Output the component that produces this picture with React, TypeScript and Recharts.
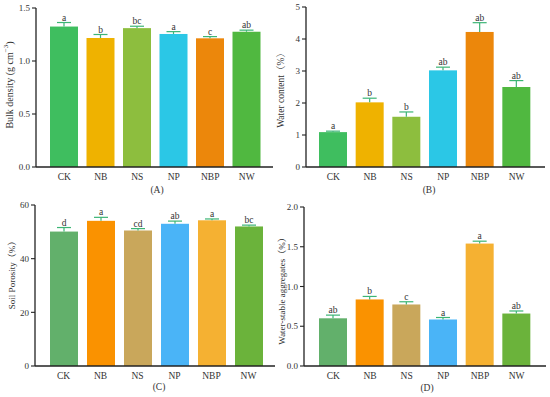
import React from 'react';
import { BarChart, Bar, XAxis, YAxis } from 'recharts';

const categories = ['CK', 'NB', 'NS', 'NP', 'NBP', 'NW'];

const bulkDensity = [1.325, 1.217, 1.31, 1.255, 1.214, 1.276];
const bulkDensityErr = [0.038, 0.033, 0.018, 0.022, 0.016, 0.015];
const bulkDensityLetters = ['a', 'b', 'bc', 'a', 'c', 'ab'];

const waterContent = [1.09, 2.02, 1.57, 3.02, 4.22, 2.5];
const waterContentErr = [0.03, 0.13, 0.15, 0.1, 0.29, 0.2];
const waterContentLetters = ['a', 'b', 'b', 'ab', 'ab', 'ab'];

const soilPorosity = [50.1, 54.1, 50.5, 53.0, 54.3, 52.0];
const soilPorosityErr = [1.5, 1.3, 0.7, 1.0, 0.5, 0.5];
const soilPorosityLetters = ['d', 'a', 'cd', 'ab', 'a', 'bc'];

const aggregates = [0.6, 0.837, 0.774, 0.585, 1.54, 0.66];
const aggregatesErr = [0.04, 0.038, 0.034, 0.025, 0.03, 0.032];
const aggregatesLetters = ['ab', 'b', 'c', 'a', 'a', 'ab'];

const ticksA = [0, 0.5, 1.0, 1.5];
const ticksB = [0, 1, 2, 3, 4, 5];
const ticksC = [0, 20, 40, 60];
const ticksD = [0, 0.5, 1.0, 1.5, 2.0];

const colorsTop = ['#3fbe5f', '#efb200', '#8dbe3e', '#2bc7e6', '#ec870b', '#50b840'];
const colorsBottom = ['#62b06b', '#fa9200', '#c9a75b', '#4ab4f7', '#f5b132', '#6bb33b'];

const ERR_COLOR = '#3cb575';
const AXIS_COLOR = '#222';
const FONT = '"Liberation Serif", "Times New Roman", "Noto Serif CJK SC", "Noto Sans CJK SC", serif';

const buildRows = (values: number[], errs: number[], letters: string[], colors: string[]) =>
  categories.map((name, i) => ({ name, value: values[i], err: errs[i], letter: letters[i], color: colors[i] }));

const BarWithError = (props: any) => {
  const { x, y, width, height, payload } = props;
  const ppu = height / payload.value;
  const cx = x + width / 2;
  const top = y - payload.err * ppu;
  return (
    <g>
      <rect x={x} y={y} width={width} height={height} fill={payload.color} />
      <line x1={cx} x2={cx} y1={y} y2={top} stroke={ERR_COLOR} strokeWidth={1.2} />
      <line x1={cx - 7} x2={cx + 7} y1={top} y2={top} stroke={ERR_COLOR} strokeWidth={1.2} />
      <text x={cx} y={top - 2} textAnchor="middle" fontSize={9.5} fontFamily={FONT} fill="#333">
        {payload.letter}
      </text>
    </g>
  );
};

type PanelProps = {
  left: number;
  top: number;
  data: any[];
  domain: [number, number];
  ticks: number[];
  fmt: (v: number) => string;
  margin: { top: number; right: number; left: number; bottom: number };
  yWidth: number;
  pad: { left: number; right: number };
};

const Panel = ({ left, top, data, domain, ticks, fmt, margin, yWidth, pad }: PanelProps) => (
  <div style={{ position: 'absolute', left, top }}>
    <BarChart width={275} height={200} data={data} margin={margin} barCategoryGap={0}>
      <XAxis
        dataKey="name"
        padding={pad}
        tickLine={false}
        tickSize={0}
        tickMargin={6}
        axisLine={{ stroke: AXIS_COLOR, strokeWidth: 1.3 }}
        tick={{ fontSize: 9.5, fill: '#333', fontFamily: FONT }}
        height={30}
        interval={0}
      />
      <YAxis
        domain={domain}
        ticks={ticks}
        tickFormatter={fmt}
        width={yWidth}
        axisLine={{ stroke: AXIS_COLOR, strokeWidth: 1.3 }}
        tickLine={{ stroke: AXIS_COLOR, strokeWidth: 1.1 }}
        tickSize={4}
        tickMargin={2}
        tick={{ fontSize: 9, fill: '#333', fontFamily: FONT }}
        allowDataOverflow
      />
      <Bar dataKey="value" barSize={28} isAnimationActive={false} shape={BarWithError} />
    </BarChart>
  </div>
);

const textStyle: React.CSSProperties = {
  position: 'absolute',
  fontFamily: FONT,
  color: '#333',
  whiteSpace: 'nowrap',
  lineHeight: 1,
};

const YLabel = ({ x, y, size, children }: { x: number; y: number; size: number; children: React.ReactNode }) => (
  <div style={{ ...textStyle, left: x, top: y, fontSize: size, transform: 'translate(-50%, -50%) rotate(-90deg)' }}>
    {children}
  </div>
);

const Title = ({ x, y, children }: { x: number; y: number; children: React.ReactNode }) => (
  <div style={{ ...textStyle, left: x, top: y, fontSize: 9.5, transform: 'translate(-50%, -50%)' }}>{children}</div>
);

const f1 = (v: number) => v.toFixed(1);
const f0 = (v: number) => String(v);

export default function App() {
  return (
    <div style={{ position: 'absolute', left: 0, top: 0, width: 550, height: 397, background: '#fff', overflow: 'hidden' }}>
      <Panel
        left={0}
        top={0}
        data={buildRows(bulkDensity, bulkDensityErr, bulkDensityLetters, colorsTop)}
        domain={[0, 1.5]}
        ticks={ticksA}
        fmt={f1}
        margin={{ top: 8, right: 2, left: 0, bottom: 3 }}
        yWidth={36}
        pad={{ left: 10, right: 8 }}
      />
      <Panel
        left={275}
        top={0}
        data={buildRows(waterContent, waterContentErr, waterContentLetters, colorsTop)}
        domain={[0, 5]}
        ticks={ticksB}
        fmt={f0}
        margin={{ top: 7, right: 5, left: 0, bottom: 3 }}
        yWidth={31}
        pad={{ left: 9, right: 10 }}
      />
      <Panel
        left={0}
        top={197}
        data={buildRows(soilPorosity, soilPorosityErr, soilPorosityLetters, colorsBottom)}
        domain={[0, 60]}
        ticks={ticksC}
        fmt={f0}
        margin={{ top: 8, right: 0, left: 0, bottom: 1 }}
        yWidth={35}
        pad={{ left: 10, right: 8 }}
      />
      <Panel
        left={275}
        top={197}
        data={buildRows(aggregates, aggregatesErr, aggregatesLetters, colorsBottom)}
        domain={[0, 2]}
        ticks={ticksD}
        fmt={f1}
        margin={{ top: 10, right: 4, left: 0, bottom: 1 }}
        yWidth={29}
        pad={{ left: 11, right: 11 }}
      />

      <YLabel x={9} y={85} size={10}>
        Bulk density (g cm<sup style={{ fontSize: 7 }}>−3</sup>)
      </YLabel>
      <YLabel x={282} y={88} size={9.5}>Water content（%）</YLabel>
      <YLabel x={12} y={273} size={9}>Soil Porosity（%）</YLabel>
      <YLabel x={282} y={289} size={9}>Water-stable aggregates（%）</YLabel>

      <Title x={157} y={191}>(A)</Title>
      <Title x={429} y={191}>(B)</Title>
      <Title x={159} y={388}>(C)</Title>
      <Title x={427} y={389}>(D)</Title>
    </div>
  );
}
